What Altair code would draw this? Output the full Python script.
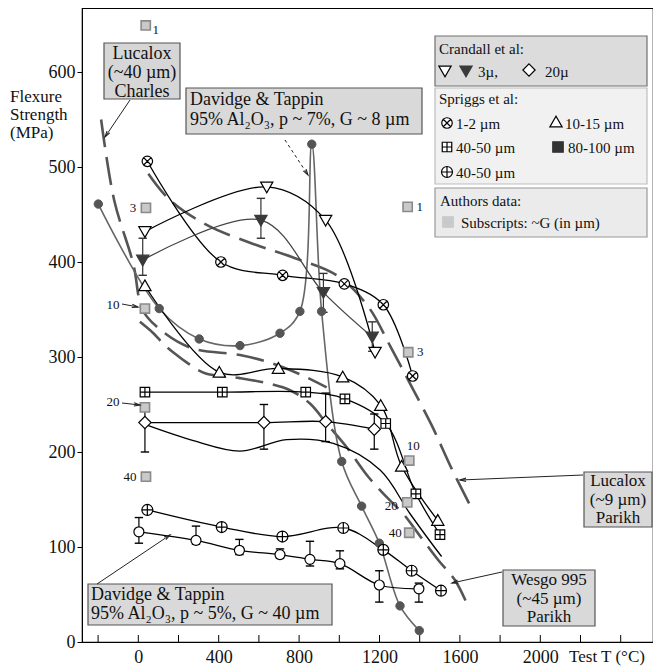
import math
import altair as alt
import pandas as pd

# ---------------- data (T in °C, strength in MPa) ----------------
# Spriggs et al. 1-2 µm  (⊗)
sp12_t = [45, 411, 718, 1025, 1219, 1365]
sp12_s = [506, 400, 386, 377, 355, 280]
# Crandall et al. 3 µ, open (▽)
cr3o_t = [33, 639, 932, 1178]
cr3o_s = [432, 479, 444, 305]
# Crandall et al. 3 µ, filled (▼) with error bars
cr3f_t = [22, 610, 921, 1164]
cr3f_s = [402, 444, 368, 321]
cr3f_lo = [386, 425, 347, 306]
cr3f_hi = [425, 467, 388, 337]
# Davidge & Tappin, p ~ 7 %, G ~ 8 µm (●)
dt8_t = [-199, 104, 303, 506, 705, 804, 863, 912, 1012, 1111, 1199, 1302, 1398]
dt8_s = [461, 351, 319, 312, 325, 348, 524, 348, 190, 143, 104, 38, 12]
# Spriggs et al. 10-15 µm (△)
sp1015_t = [33, 403, 697, 1017, 1206, 1310, 1490]
sp1015_s = [375, 284, 288, 279, 249, 185, 128]
# Spriggs et al. 40-50 µm (⊞)
sp4050a_t = [33, 418, 833, 1028, 1231, 1381, 1501]
sp4050a_s = [263, 263, 263, 256, 230, 156, 113]
# Crandall et al. 20 µ (◇) with error bars
cr20_t = [33, 625, 932, 1174]
cr20_s = [231, 231, 232, 224]
cr20_lo = [200, 203, 211, 203]
cr20_hi = [245, 250, 262, 240]
# solid curve without markers
plain_t = [33, 274, 506, 738, 970, 1203, 1352, 1509]
plain_s = [229, 212, 201, 213, 209, 181, 135, 90]
# Spriggs et al. 40-50 µm (⊕)
sp4050b_t = [45, 415, 717, 1020, 1219, 1360, 1506]
sp4050b_s = [139, 121, 111, 120, 97, 75, 54]
# Davidge & Tappin, p ~ 5 %, G ~ 40 µm (○) with error bars
dt40_t = [3, 287, 503, 705, 854, 1003, 1199, 1396]
dt40_s = [116, 107, 96.5, 92, 87, 82.5, 60, 56]
dt40_lo = [104, 103, 92, 88, 80, 77, 42, 42]
dt40_hi = [131, 122, 108, 98, 106, 96, 75, 62]
# dashed curves
luc40_t = [-185, -120, -25, 20, 91, 257, 506, 672, 813, 937]
luc40_s = [550, 465, 398, 350, 332, 310, 302, 293, 281, 268]
wesgo_t = [8, 75, 124, 191, 249, 332, 500, 650, 755, 854, 937, 1037, 1144, 1252, 1318, 1400, 1493, 1576, 1640]
wesgo_s = [337, 325, 314, 302, 293, 283, 278, 272, 265, 251, 230, 205, 174, 149, 135, 112, 86, 65, 38]
luc9_t = [50, 158, 340, 572, 780, 987, 1144, 1252, 1352, 1460, 1560, 1660]
luc9_s = [493, 465, 439, 419, 404, 386, 353, 312, 272, 228, 182, 140]
# authors' data (grey squares) with grain-size subscripts
auth_t = [37, 38, 1340, 33, 1343, 33, 38, 1348, 1338, 1348]
auth_s = [649, 457, 458, 351, 305, 247, 174, 191, 147, 115]
auth_lab = ["1", "3", "1", "10", "3", "20", "40", "10", "20", "40"]
auth_dx = [10, -13, 12, -32, 12, -32, -16, 4, -16, -14]
auth_dy = [5, 0, 0, -4, 0, -5, 0, -15, 4, 0]

x_tick_vals = [-200, 0, 200, 400, 600, 800, 1000, 1200, 1400, 1600, 1800, 2000, 2200, 2400]
x_label_vals = [0, 400, 800, 1200, 1600, 2000]
y_label_vals = [0, 100, 200, 300, 400, 500, 600]

# ---------------- geometry helpers ----------------
X0, KX = 138.3, 0.201
Y0, KY = 642.0, 0.95
W, H = 571, 634
OX, OY = 82, 8


def pt(px):
    return (px - X0) / KX


def ps(py):
    return (Y0 - py) / KY


xs = alt.Scale(domain=[pt(OX), pt(OX + W)], nice=False, zero=False)
ys = alt.Scale(domain=[ps(OY + H), ps(OY)], nice=False, zero=False)
FONT = "Liberation Serif"
INK = "#111111"


def XQ(f="T"):
    return alt.X(f"{f}:Q", scale=xs, axis=None)


def YQ(f="S"):
    return alt.Y(f"{f}:Q", scale=ys, axis=None)


def df(t, s, **extra):
    d = {"T": t, "S": s}
    d.update(extra)
    return pd.DataFrame(d)


def line(t, s, color="black", width=1.3, dash=None, interp="catmull-rom"):
    props = dict(color=color, strokeWidth=width, interpolate=interp)
    if dash:
        props["strokeDash"] = dash
    return alt.Chart(df(t, s)).mark_line(**props).encode(x=XQ(), y=YQ())


def points(t, s, shape, size, fill="white", stroke="black", sw=1.2):
    return alt.Chart(df(t, s)).mark_point(
        shape=shape, size=size, filled=True, fill=fill, stroke=stroke,
        strokeWidth=sw, opacity=1, fillOpacity=1
    ).encode(x=XQ(), y=YQ())


def errbars(t, lo, hi, color="black"):
    d = pd.DataFrame({"T": t, "lo": lo, "hi": hi})
    r = alt.Chart(d).mark_rule(color=color, strokeWidth=1.2).encode(
        x=XQ(), y=YQ("lo"), y2=alt.Y2("hi:Q"))
    c1 = alt.Chart(d).mark_point(shape="stroke", size=70, stroke=color, strokeWidth=1.4,
                                 opacity=1).encode(x=XQ(), y=YQ("lo"))
    c2 = alt.Chart(d).mark_point(shape="stroke", size=70, stroke=color, strokeWidth=1.4,
                                 opacity=1).encode(x=XQ(), y=YQ("hi"))
    return [r, c1, c2]


CIRC = "M -1 0 A 1 1 0 1 1 1 0 A 1 1 0 1 1 -1 0 Z"
OTIMES = CIRC + " M -0.707 -0.707 L 0.707 0.707 M -0.707 0.707 L 0.707 -0.707"
OPLUS = CIRC + " M 0 -1 L 0 1 M -1 0 L 1 0"
BOXPLUS = "M -1 -1 L 1 -1 L 1 1 L -1 1 Z M 0 -1 L 0 1 M -1 0 L 1 0"
TDOWN = "M -1 -0.8 L 1 -0.8 L 0 0.95 Z"
TUP = "M -1 0.8 L 1 0.8 L 0 -0.95 Z"
DIAM = "M 0 -1 L 1 0 L 0 1 L -1 0 Z"
ARROWHEAD = "M -0.55 2 L 0 0 L 0.55 2"

layers = []

# axes carrier (invisible points) -- the only layer that draws axes
axis_df = pd.DataFrame({"T": [0], "S": [0]})
layers.append(
    alt.Chart(axis_df).mark_point(opacity=0).encode(
        x=alt.X("T:Q", scale=xs, axis=alt.Axis(
            values=x_label_vals, format="d", tickSize=0, labelFontSize=18, labelFont=FONT,
            labelColor=INK, labelPadding=6, domainColor="black", grid=False,
            title="", labelFlush=False)),
        y=alt.Y("S:Q", scale=ys, axis=alt.Axis(
            values=y_label_vals, format="d", tickSize=5, tickColor="black", labelFontSize=18,
            labelFont=FONT, labelColor=INK, labelPadding=2, domainColor="black",
            grid=False, title="", labelFlush=False)),
    )
)

# inward x ticks
layers.append(
    alt.Chart(pd.DataFrame({"T": x_tick_vals})).mark_rule(color="black", strokeWidth=1).encode(
        x=XQ(), y=alt.value(H), y2=alt.value(H - 7))
)

# dashed curves
DASHC = "#555555"
layers.append(line(luc40_t, luc40_s, DASHC, 2.6, [28, 10]))
layers.append(line(wesgo_t, wesgo_s, DASHC, 2.6, [28, 10]))
layers.append(line(luc9_t, luc9_s, DASHC, 2.6, [28, 10]))

# solid curves
layers.append(line(dt8_t, dt8_s, "#666666", 1.6))
layers.append(line(sp12_t, sp12_s))
layers.append(line(cr3o_t, cr3o_s))
layers.append(line(cr3f_t, cr3f_s, "#444444", 1.3))
layers.append(line(sp1015_t, sp1015_s))
layers.append(line(sp4050a_t, sp4050a_s))
layers.append(line(cr20_t, cr20_s))
layers.append(line(plain_t, plain_s))
layers.append(line(sp4050b_t, sp4050b_s))
layers.append(line(dt40_t, dt40_s))

# error bars
layers += errbars(cr3f_t, cr3f_lo, cr3f_hi, "#333333")
layers += errbars(cr20_t, cr20_lo, cr20_hi)
layers += errbars(dt40_t, dt40_lo, dt40_hi)

# markers
layers.append(points(dt8_t, dt8_s, "circle", 70, fill="#555555", stroke="#555555", sw=1))
layers.append(points(sp12_t, sp12_s, OTIMES, 110))
layers.append(points(cr3o_t, cr3o_s, TDOWN, 150))
layers.append(points(cr3f_t, cr3f_s, TDOWN, 150, fill="#3a3a3a", stroke="#3a3a3a"))
layers.append(points(sp1015_t, sp1015_s, TUP, 150))
layers.append(points(sp4050a_t, sp4050a_s, BOXPLUS, 90))
layers.append(points(cr20_t, cr20_s, DIAM, 150))
layers.append(points(sp4050b_t, sp4050b_s, OPLUS, 120))
layers.append(points(dt40_t, dt40_s, CIRC, 100))
layers.append(points(auth_t, auth_s, "square", 85, fill="#c9c9c9", stroke="#8a8a8a", sw=1.6))

# subscripts of authors' data
lab_df = pd.DataFrame({
    "T": [t + dx / KX for t, dx in zip(auth_t, auth_dx)],
    "S": [s - dy / KY for s, dy in zip(auth_s, auth_dy)],
    "txt": auth_lab,
})
layers.append(alt.Chart(lab_df).mark_text(font=FONT, fontSize=13, align="center",
                                          baseline="middle", fill=INK).encode(
    x=XQ(), y=YQ(), text="txt:N"))

# ---------------- annotation boxes (page pixel positions) ----------------
boxes = [
    (104, 43, 180, 99, "#d6d6d6", "#555555"),
    (186, 88, 422, 134, "#d9d9d9", "#555555"),
    (584, 472, 652, 527, "#d9d9d9", "#555555"),
    (503, 570, 595, 626, "#d9d9d9", "#555555"),
    (88, 584, 332, 625, "#d9d9d9", "#555555"),
    (435, 36, 647, 86, "#dcdcdc", "#707070"),
    (435, 88, 647, 184, "#f1f1f1", "#bdbdbd"),
    (435, 188, 647, 237, "#ebebeb", "#9a9a9a"),
]
for (x1, y1, x2, y2, fc, sc) in boxes:
    bd = pd.DataFrame({"T": [pt(x1)], "T2": [pt(x2)], "S": [ps(y1)], "S2": [ps(y2)]})
    layers.append(alt.Chart(bd).mark_rect(fill=fc, stroke=sc, strokeWidth=1.2).encode(
        x=XQ(), x2=alt.X2("T2:Q"), y=YQ(), y2=alt.Y2("S2:Q")))

# arrows (page pixel start -> end)
arrows = [
    (130, 100, 105, 137, None),
    (285, 140, 308, 175, [3, 3]),
    (583, 475, 460, 480, None),
    (502, 572, 452, 583, None),
    (97, 584, 170, 535, None),
    (122, 304, 138, 307, None),
    (122, 403, 140, 405, None),
]
for (x1, y1, x2, y2, dash) in arrows:
    ad = pd.DataFrame({"T": [pt(x1)], "T2": [pt(x2)], "S": [ps(y1)], "S2": [ps(y2)]})
    props = dict(color="#222222", strokeWidth=1)
    if dash:
        props["strokeDash"] = dash
    layers.append(alt.Chart(ad).mark_rule(**props).encode(
        x=XQ(), x2=alt.X2("T2:Q"), y=YQ(), y2=alt.Y2("S2:Q")))
    ang = math.degrees(math.atan2(x2 - x1, -(y2 - y1))) % 360
    hd = pd.DataFrame({"T": [pt(x2)], "S": [ps(y2)]})
    layers.append(alt.Chart(hd).mark_point(shape=ARROWHEAD, size=36, angle=ang, stroke="#222222",
                                           strokeWidth=1.1, filled=False, opacity=1).encode(
        x=XQ(), y=YQ()))

# texts: (page x, page y, text, align, size)
texts = [
    (142, 54, "Lucalox", "center", 18),
    (142, 73, "(~40 µm)", "center", 18),
    (142, 92, "Charles", "center", 18),
    (190, 100, "Davidge & Tappin", "left", 18),
    (190, 120, "95% Al₂O₃, p ~ 7%, G ~ 8 µm", "left", 18),
    (618, 481, "Lucalox", "center", 17),
    (618, 500, "(~9 µm)", "center", 17),
    (618, 518, "Parikh", "center", 17),
    (549, 580, "Wesgo 995", "center", 17),
    (549, 599, "(~45 µm)", "center", 17),
    (549, 617, "Parikh", "center", 17),
    (91, 595, "Davidge & Tappin", "left", 18),
    (91, 614, "95% Al₂O₃, p ~ 5%, G ~ 40 µm", "left", 18),
    (439, 49, "Crandall et al:", "left", 15),
    (478, 72, "3µ,", "left", 15),
    (545, 72, "20µ", "left", 15),
    (439, 99, "Spriggs et al:", "left", 15),
    (456, 124, "1-2 µm", "left", 15),
    (565, 124, "10-15 µm", "left", 15),
    (456, 148, "40-50 µm", "left", 15),
    (568, 148, "80-100 µm", "left", 15),
    (456, 173, "40-50 µm", "left", 15),
    (440, 201, "Authors data:", "left", 15),
    (461, 223, "Subscripts: ~G (in µm)", "left", 15),
    (10, 97, "Flexure", "left", 17),
    (10, 115, "Strength", "left", 17),
    (10, 133, "(MPa)", "left", 17),
    (607, 657, "Test T (°C)", "center", 17),
]
for al in ["left", "center"]:
    for fs in [15, 17, 18]:
        rows = [r for r in texts if r[3] == al and r[4] == fs]
        if not rows:
            continue
        td = pd.DataFrame({"T": [pt(r[0]) for r in rows], "S": [ps(r[1]) for r in rows],
                           "txt": [r[2] for r in rows]})
        layers.append(alt.Chart(td).mark_text(font=FONT, fontSize=fs, align=al, baseline="middle",
                                              fill=INK).encode(
            x=XQ(), y=YQ(), text="txt:N"))

# legend symbols (page pixel positions)
leg = [
    (445, 71, TDOWN, 150, "white", "black"),
    (466, 71, TDOWN, 150, "#3a3a3a", "#3a3a3a"),
    (529, 70, DIAM, 150, "white", "black"),
    (447, 123, OTIMES, 110, "white", "black"),
    (556, 122, TUP, 150, "white", "black"),
    (447, 147, BOXPLUS, 90, "white", "black"),
    (558, 147, "square", 110, "#333333", "#333333"),
    (447, 172, OPLUS, 120, "white", "black"),
    (448, 222, "square", 110, "#c9c9c9", "#c9c9c9"),
]
for (x, y, shp, sz, fc, sc) in leg:
    layers.append(points([pt(x)], [ps(y)], shp, sz, fill=fc, stroke=sc))

chart = alt.layer(*layers).resolve_axis(x="independent", y="independent").properties(
    width=W, height=H,
    autosize=alt.AutoSizeParams(type="none"),
    padding={"left": 74, "top": 0, "right": 0, "bottom": 24},
    background="white",
).configure_view(stroke="black", strokeWidth=1.2)

chart.save("out.html", embed_options={"renderer": "svg", "actions": False})
